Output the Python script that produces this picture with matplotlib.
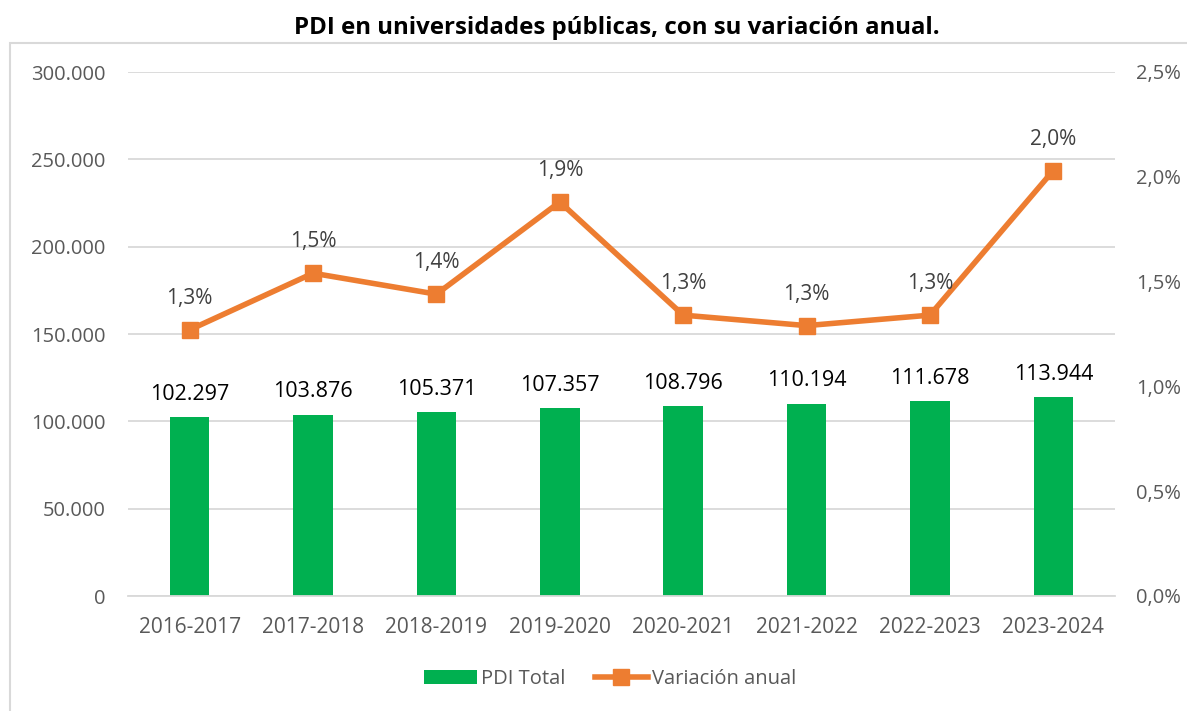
import matplotlib.pyplot as plt
from matplotlib.patches import Rectangle
from matplotlib.ticker import FuncFormatter

# data
cursos = ['2016-2017', '2017-2018', '2018-2019', '2019-2020',
          '2020-2021', '2021-2022', '2022-2023', '2023-2024']
pdi_total = [102297, 103876, 105371, 107357, 108796, 110194, 111678, 113944]
variacion = [1.27, 1.54, 1.44, 1.88, 1.34, 1.29, 1.34, 2.03]  # %

verde = '#00B050'
naranja = '#ED7D31'
gris = '#595959'
plt.rcParams['font.family'] = ['Open Sans', 'DejaVu Sans']

def miles(v):
    return f'{int(v):,}'.replace(',', '.')

fig = plt.figure(figsize=(11.87, 7.11), dpi=100)
# chart border
fig.patches.append(Rectangle((10/1187, -0.01), 1.1, 1 - 43/711 + 0.01,
                             transform=fig.transFigure, fill=False,
                             edgecolor='#D9D9D9', linewidth=1.5))
ax = fig.add_axes([128/1187, 1 - 596/711, (1115-128)/1187, (596-72)/711])
x = range(len(cursos))
barras = ax.bar(x, pdi_total, width=0.32, color=verde, label='PDI Total', zorder=2)
ax.set_ylim(0, 300000)
ax.set_xlim(-0.5, len(cursos) - 0.5)
ax.set_yticks(range(0, 300001, 50000))
ax.yaxis.set_major_formatter(FuncFormatter(lambda v, p: miles(v)))
ax.grid(axis='y', color='#D9D9D9', linewidth=1.3, zorder=0)
for s in ['top', 'right', 'left']:
    ax.spines[s].set_visible(False)
ax.spines['bottom'].set_color('#D9D9D9')
ax.spines['bottom'].set_linewidth(1.3)
ax.tick_params(axis='y', length=0, labelsize=14.5, colors=gris, pad=16)
ax.tick_params(axis='x', length=0, labelsize=15, colors=gris, pad=15)
ax.set_xticks(list(x))
ax.set_xticklabels(cursos)
for i, v in enumerate(pdi_total):
    ax.text(i, v + 7000, miles(v), ha='center', va='bottom', fontsize=15.5, color='black')

ax2 = ax.twinx()
ax2.plot(list(x), variacion, color=naranja, linewidth=4, marker='s', markersize=11,
         label='Variación anual', zorder=3)
ax2.set_ylim(0, 2.5)
ax2.set_yticks([0, 0.5, 1.0, 1.5, 2.0, 2.5])
ax2.yaxis.set_major_formatter(FuncFormatter(lambda v, p: f'{v:.1f}%'.replace('.', ',')))
for s in ['top', 'right', 'left', 'bottom']:
    ax2.spines[s].set_visible(False)
ax2.tick_params(length=0, labelsize=14.5, colors=gris, pad=15)
for i, v in enumerate(variacion):
    ax2.text(i, v + 0.1, f'{v:.1f}%'.replace('.', ','), ha='center', va='bottom',
             fontsize=15, color='#404040')

fig.text(0.52, 1 - 28/711, 'PDI en universidades públicas, con su variación anual.',
         ha='center', va='center', fontsize=17.3, fontweight='bold')

h1, l1 = ax.get_legend_handles_labels()
h2, l2 = ax2.get_legend_handles_labels()
fig.legend(h1 + h2, l1 + l2, loc='center', bbox_to_anchor=(0.514, 1 - 679/711),
           ncol=2, frameon=False, fontsize=14.5, labelcolor=gris,
           handlelength=2.6, handletextpad=0.2, columnspacing=1.5)

fig.savefig('out.png', dpi=100)
